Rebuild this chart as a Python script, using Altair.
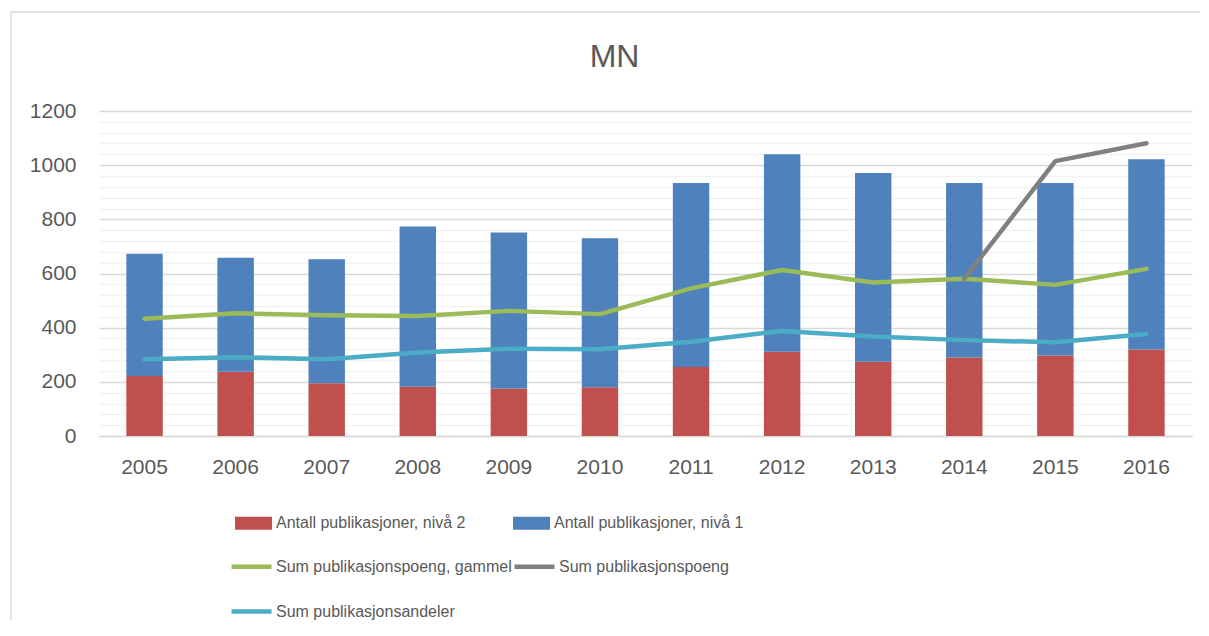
import altair as alt
import pandas as pd

years = ["2005", "2006", "2007", "2008", "2009", "2010", "2011", "2012", "2013", "2014", "2015", "2016"]
totals = [673, 658, 653, 774, 751, 730, 934, 1040, 971, 934, 934, 1022]
niva2 = [222, 237, 195, 182, 175, 180, 255, 311, 274, 290, 297, 319]
poeng_gammel = [433, 453, 446, 443, 462, 450, 545, 613, 567, 581, 558, 617]
poeng_years = ["2014", "2015", "2016"]
poeng = [581, 1015, 1081]
andeler = [283, 291, 283, 308, 322, 320, 348, 388, 367, 354, 346, 377]

BAR2 = "Antall publikasjoner, nivå 2"
BAR1 = "Antall publikasjoner, nivå 1"
L_G = "Sum publikasjonspoeng, gammel"
L_P = "Sum publikasjonspoeng"
L_A = "Sum publikasjonsandeler"

bar_rows = []
for y, t, n2 in zip(years, totals, niva2):
    bar_rows.append({"year": y, "series": BAR2, "value": n2, "ord": 0})
    bar_rows.append({"year": y, "series": BAR1, "value": t - n2, "ord": 1})
bars_df = pd.DataFrame(bar_rows)

line_rows = []
for y, v in zip(years, poeng_gammel):
    line_rows.append({"year": y, "series": L_G, "value": v})
for y, v in zip(poeng_years, poeng):
    line_rows.append({"year": y, "series": L_P, "value": v})
for y, v in zip(years, andeler):
    line_rows.append({"year": y, "series": L_A, "value": v})
lines_df = pd.DataFrame(line_rows)

FONT = "Liberation Sans"
TXT = "#595959"

x_enc = alt.X(
    "year:N",
    sort=years,
    scale=alt.Scale(paddingInner=0.6, paddingOuter=0.3),
    axis=alt.Axis(
        title=None, labelAngle=0, ticks=False, grid=False,
        domain=True, domainColor="#d9d9d9", domainWidth=1.5,
        labelFont=FONT, labelFontSize=21, labelColor=TXT, labelPadding=20,
    ),
)

y_axis = alt.Axis(
    title=None,
    values=list(range(0, 1201, 40)),
    tickCount=40,
    format="d",
    labelExpr="datum.value % 200 === 0 ? datum.label : ''",
    labelOverlap=False,
    ticks=False, domain=False,
    gridColor=alt.condition("datum.value % 200 === 0", alt.value("#d9d9d9"), alt.value("#f2f2f2")),
    gridWidth=1.4,
    labelFont=FONT, labelFontSize=21, labelColor=TXT, labelPadding=23,
)
y_scale = alt.Scale(domain=[0, 1200], nice=False)

bars = alt.Chart(bars_df).mark_bar().encode(
    x=x_enc,
    y=alt.Y("value:Q", stack="zero", scale=y_scale, axis=y_axis),
    fill=alt.Fill(
        "series:N",
        scale=alt.Scale(domain=[BAR2, BAR1], range=["#c0504d", "#4f81bd"]),
        legend=alt.Legend(
            title=None, orient="none", legendX=136, legendY=393.5, columns=2,
            direction="horizontal",
            columnPadding=47, symbolType="M-1,-0.35L1,-0.35L1,0.35L-1,0.35Z",
            symbolSize=1369, symbolStrokeWidth=0, labelOffset=4,
            labelFont=FONT, labelFontSize=16, labelColor=TXT, labelLimit=400,
        ),
    ),
    order=alt.Order("ord:Q"),
)

lines = alt.Chart(lines_df).mark_line(strokeWidth=4.5, strokeCap="round", strokeJoin="round").encode(
    x=alt.X("year:N", sort=years),
    y=alt.Y("value:Q", scale=y_scale, axis=y_axis),
    stroke=alt.Stroke(
        "series:N",
        scale=alt.Scale(domain=[L_G, L_P, L_A], range=["#9bbb59", "#808080", "#4bacc6"]),
        legend=alt.Legend(
            title=None, orient="none", legendX=130, legendY=433, columns=2,
            direction="horizontal",
            columnPadding=-29, rowPadding=13, symbolType="stroke", symbolSize=1600,
            symbolStrokeWidth=4.5, labelOffset=2,
            labelFont=FONT, labelFontSize=16, labelColor=TXT, labelLimit=400,
        ),
    ),
)

frame_df = pd.DataFrame({"k": [0]})
frame_top = alt.Chart(frame_df).mark_rule(color="#d9d9d9", strokeWidth=1.5).encode(
    x=alt.value(-88), x2=alt.value(1200), y=alt.value(-99)
)
frame_left = alt.Chart(frame_df).mark_rule(color="#d9d9d9", strokeWidth=1.5).encode(
    x=alt.value(-88), y=alt.value(-99), y2=alt.value(600)
)

chart = alt.layer(frame_top, frame_left, bars, lines).resolve_scale(fill="independent", stroke="independent").properties(
    width=1093,
    height=325,
    autosize=alt.AutoSizeParams(type="none"),
    padding={"left": 91, "top": 103, "right": 8, "bottom": 184},
    title=alt.TitleParams(
        text="MN", font=FONT, fontSize=32, fontWeight="normal", color=TXT,
        anchor="middle", baseline="alphabetic", dx=-31, dy=88, offset=0,
    ),
).configure_view(stroke=None)

chart.save("out.html", embed_options={"renderer": "svg", "actions": False})
